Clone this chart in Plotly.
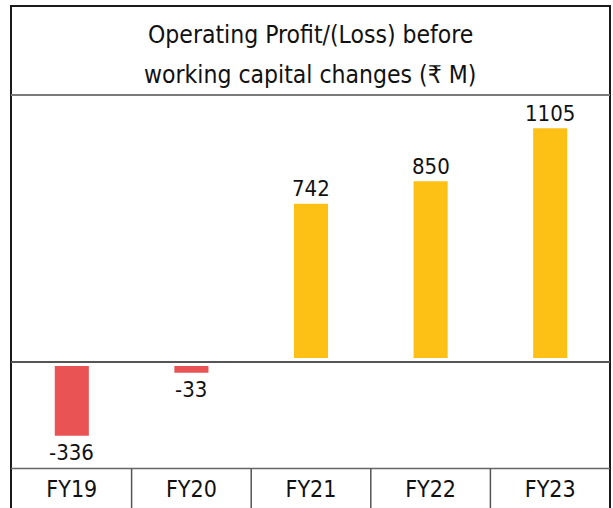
import plotly.graph_objects as go

# ---- data ----
categories = ["FY19", "FY20", "FY21", "FY22", "FY23"]
values = [-336, -33, 742, 850, 1105]
title_lines = ["Operating Profit/(Loss) before", "working capital changes (₹ M)"]

W, H = 613, 508
FONT = "Liberation Sans Narrow, DejaVu Sans Condensed, Arial Narrow, sans-serif"
RED = "#EA5353"
YELLOW = "#FCC114"
S = 229.7 / 1105.0  # pixels per unit


def py(p):
    return 1 - p / H


def px(p):
    return p / W


pos_vals = [v if v > 0 else None for v in values]
neg_vals = [v if v < 0 else None for v in values]

fig = go.Figure()
fig.add_trace(go.Bar(x=categories, y=pos_vals, xaxis="x", yaxis="y",
                     marker=dict(color=YELLOW, line=dict(width=0)), width=0.285,
                     hoverinfo="skip"))
fig.add_trace(go.Bar(x=categories, y=neg_vals, xaxis="x2", yaxis="y2",
                     marker=dict(color=RED, line=dict(width=0)), width=0.285,
                     hoverinfo="skip"))

annotations = []
for c, v in zip(categories, values):
    if v > 0:
        annotations.append(dict(x=c, y=v, xref="x", yref="y", text=str(v),
                                showarrow=False, yanchor="middle", yshift=15,
                                font=dict(family=FONT, size=22, color="#111")))
    else:
        annotations.append(dict(x=c, y=v, xref="x2", yref="y2", text=str(v),
                                showarrow=False, yanchor="middle", yshift=-17,
                                font=dict(family=FONT, size=22, color="#111")))

annotations.append(dict(x=px(310), y=py(35), xref="paper", yref="paper",
                        text=title_lines[0], showarrow=False, yanchor="middle",
                        xanchor="center", font=dict(family=FONT, size=24.5, color="#111")))
annotations.append(dict(x=px(310), y=py(75), xref="paper", yref="paper",
                        text=title_lines[1], showarrow=False, yanchor="middle",
                        xanchor="center", font=dict(family=FONT, size=24.5, color="#111")))

shapes = [
    # outer border
    dict(type="rect", xref="paper", yref="paper", x0=px(11), x1=px(610),
         y0=py(530), y1=py(6), line=dict(color="#1a1a1a", width=2)),
    # header line
    dict(type="line", xref="paper", yref="paper", x0=px(11), x1=px(610),
         y0=py(95), y1=py(95), line=dict(color="#7a7a7a", width=2)),
    # zero divider
    dict(type="line", xref="paper", yref="paper", x0=px(11), x1=px(610),
         y0=py(362), y1=py(362), line=dict(color="#555555", width=2)),
    # category row top
    dict(type="line", xref="paper", yref="paper", x0=px(11), x1=px(610),
         y0=py(468.5), y1=py(468.5), line=dict(color="#666666", width=1.5)),
]
for i in range(len(categories) - 1):
    shapes.append(dict(type="line", xref="x2", yref="paper", x0=i + 0.5, x1=i + 0.5,
                       y0=py(468.5), y1=py(520), line=dict(color="#555555", width=1.5)))

top_base, top_edge = 358, 95
bot_base, bot_edge = 366, 468.5

fig.update_layout(
    width=W, height=H, margin=dict(l=0, r=0, t=0, b=0),
    paper_bgcolor="white", plot_bgcolor="white", showlegend=False,
    barmode="overlay",
    xaxis=dict(domain=[px(12), px(610)], range=[-0.5, 4.5], anchor="y",
               showticklabels=False, showgrid=False, zeroline=False, showline=False,
               ticks=""),
    yaxis=dict(domain=[py(top_base), py(top_edge)], range=[0, (top_base - top_edge) / S],
               showticklabels=False, showgrid=False, zeroline=False, showline=False),
    xaxis2=dict(domain=[px(12), px(610)], range=[-0.5, 4.5], anchor="y2",
                showgrid=False, zeroline=False, showline=False, ticks="",
                tickfont=dict(family=FONT, size=23, color="#111"),
                ticklabelstandoff=4),
    yaxis2=dict(domain=[py(bot_edge), py(bot_base)], range=[-(bot_edge - bot_base) / S, 0],
                showticklabels=False, showgrid=False, zeroline=False, showline=False),
    annotations=annotations,
    shapes=shapes,
)

fig.write_html("out.html", config={"displayModeBar": False},
               post_script="document.body.style.margin='0';document.body.style.overflow='hidden';")
